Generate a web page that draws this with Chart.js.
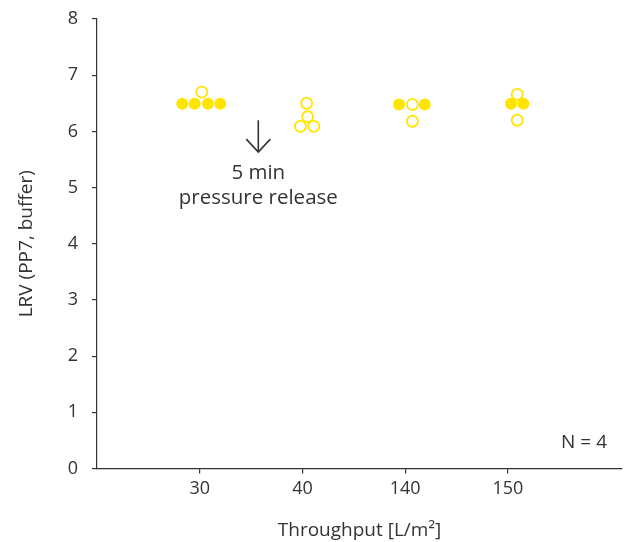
<!DOCTYPE html>
<html>
<head>
<meta charset="utf-8">
<script src="https://cdn.jsdelivr.net/npm/chart.js@4/dist/chart.umd.min.js"></script>
<style>
	html, body { margin: 0; padding: 0; background: #fff; overflow: hidden; }
	canvas { display: block; }
</style>
</head>
<body>
<canvas id="chart" width="625" height="542"></canvas>
<script>
const categories = ["30", "40", "140", "150"]
const categoryPos = [1, 2, 3, 4]

// filled circles
const filledX = [0.83, 0.95, 1.08, 1.20, 2.94, 3.19, 4.03, 4.15]
const filledY = [6.49, 6.49, 6.49, 6.49, 6.48, 6.48, 6.49, 6.49]

// open circles
const openX = [1.02, 2.04, 2.05, 1.98, 2.11, 3.07, 3.07, 4.09, 4.09]
const openY = [6.70, 6.50, 6.26, 6.09, 6.09, 6.48, 6.18, 6.66, 6.20]

const yTicks = [0, 1, 2, 3, 4, 5, 6, 7, 8]

const note = { x: 1.57, yTop: 6.2, yBottom: 5.63, lines: ["5 min", "pressure release"], lineY: [5.26, 4.81] }
const nLabel = "N = 4"

const yellow = "#ffe500"
const ink = "#333333"
const font = "'Open Sans', 'Noto Sans', sans-serif"

const toPoints = (xs, ys) => xs.map((x, i) => ({ x: x, y: ys[i] }))

const annotate = {
	id: "annotate",
	afterDatasetsDraw(chart) {
		const ctx = chart.ctx
		const x = chart.scales.x, y = chart.scales.y
		const px = x.getPixelForValue(note.x)
		const top = y.getPixelForValue(note.yTop)
		const bot = y.getPixelForValue(note.yBottom)
		ctx.save()
		ctx.strokeStyle = ink
		ctx.lineWidth = 1.6
		ctx.beginPath()
		ctx.moveTo(px, top)
		ctx.lineTo(px, bot)
		ctx.moveTo(px - 12, bot - 13)
		ctx.lineTo(px, bot)
		ctx.lineTo(px + 12, bot - 13)
		ctx.stroke()
		ctx.fillStyle = ink
		ctx.font = "20.5px " + font
		ctx.textAlign = "center"
		ctx.textBaseline = "middle"
		note.lines.forEach((t, i) => ctx.fillText(t, px, y.getPixelForValue(note.lineY[i])))
		ctx.font = "19px " + font
		ctx.textAlign = "right"
		ctx.fillText(nLabel, chart.chartArea.right - 15, chart.chartArea.bottom - 26)
		ctx.restore()
	}
}

const noPad = (s) => { s.paddingTop = 0; s.paddingBottom = 0; s.paddingLeft = 0; s.paddingRight = 0 }

new Chart(document.getElementById("chart"), {
	type: "scatter",
	data: {
		datasets: [
			{
				data: toPoints(filledX, filledY),
				pointRadius: 6,
				pointBackgroundColor: yellow,
				pointBorderColor: yellow,
				pointBorderWidth: 0,
			},
			{
				data: toPoints(openX, openY),
				pointRadius: 5.5,
				pointBackgroundColor: "rgba(255,255,255,0)",
				pointBorderColor: yellow,
				pointBorderWidth: 1.8,
			},
		],
	},
	options: {
		responsive: false,
		animation: false,
		layout: { autoPadding: false, padding: { top: 19, right: 3, left: 0, bottom: 0 } },
		plugins: { legend: { display: false }, tooltip: { enabled: false } },
		scales: {
			x: {
				type: "linear",
				min: 0,
				max: 5.11,
				afterBuildTicks: (s) => { s.ticks = categoryPos.map(v => ({ value: v })) },
				afterFit: (s) => { s.height = 73.5; noPad(s) },
				ticks: {
					callback: (v) => categories[categoryPos.indexOf(v)] ?? "",
					color: ink,
					font: { family: font, size: 18 },
					padding: 5,
					maxRotation: 0,
				},
				grid: { drawOnChartArea: false, tickLength: 5, color: ink, lineWidth: 1.2 },
				border: { color: ink, width: 1.2 },
				title: {
					display: true,
					text: "Throughput [L/m²]",
					color: ink,
					font: { family: font, size: 19 },
					padding: { top: 2, bottom: 0 },
				},
			},
			y: {
				min: 0,
				max: 8,
				afterBuildTicks: (s) => { s.ticks = yTicks.map(v => ({ value: v })) },
				afterFit: (s) => { s.width = 97; noPad(s) },
				ticks: {
					color: ink,
					font: { family: font, size: 18 },
					padding: 14,
				},
				grid: { drawOnChartArea: false, tickLength: 5, color: ink, lineWidth: 1.2 },
				border: { color: ink, width: 1.2 },
				title: {
					display: true,
					text: "LRV (PP7, buffer)",
					color: ink,
					font: { family: font, size: 19 },
					padding: { top: 15, bottom: 10 },
				},
			},
		},
	},
	plugins: [annotate],
})
</script>
</body>
</html>
